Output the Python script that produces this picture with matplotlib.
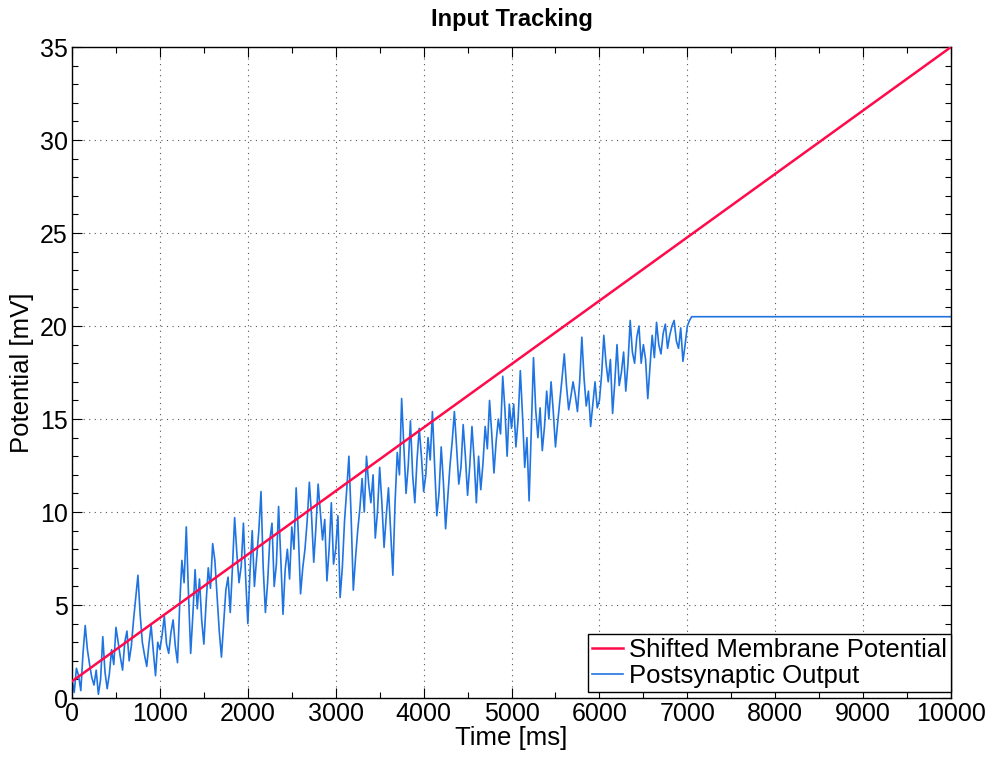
import numpy as np
import matplotlib
matplotlib.use("Agg")
import matplotlib.pyplot as plt
from matplotlib.ticker import MultipleLocator

plt.rcParams['font.family'] = ['Liberation Sans', 'DejaVu Sans']

# Shifted membrane potential (straight ramp): endpoints
ramp_t = [0, 10000]
ramp_v = [0.9, 35.0]

# Postsynaptic output, read every 25 ms up to ~7050 ms, then flat plateau
out_v = [
    1.0, 0.3, 1.6, 1.2, 0.4, 2.4, 3.9, 2.6, 1.8, 1.1, 0.7, 1.5, 0.2, 1.0, 3.3, 1.4,
    0.5, 1.3, 2.6, 1.8, 3.8, 3.0, 2.2, 1.5, 3.0, 3.6, 2.0, 2.8, 4.2, 5.4, 6.6, 4.5,
    3.0, 2.3, 1.7, 2.9, 3.9, 2.5, 1.2, 3.0, 2.6, 3.4, 4.4, 2.9, 2.4, 3.5, 4.2, 2.8,
    1.9, 5.0, 7.4, 6.2, 9.2, 5.6, 2.4, 4.5, 6.9, 4.8, 6.4, 4.2, 2.9, 5.1, 7.0, 5.9,
    8.3, 7.4, 5.5, 3.6, 2.2, 4.0, 5.8, 6.5, 4.6, 7.0, 9.7, 7.8, 6.2, 7.1, 9.4, 6.5,
    4.0, 6.8, 9.0, 6.0, 7.5, 9.0, 11.1, 7.0, 4.6, 6.2, 8.5, 9.4, 6.0, 7.2, 10.3, 7.5,
    4.5, 6.9, 8.0, 6.4, 9.2, 8.0, 11.3, 8.8, 5.6, 7.0, 8.0, 9.5, 11.6, 9.8, 7.3, 9.2,
    11.5, 10.0, 8.5, 9.6, 6.3, 8.0, 10.5, 7.2, 8.0, 9.8, 5.4, 7.0, 9.5, 11.2, 13.0, 9.8,
    5.8, 7.5, 9.0, 10.2, 11.8, 10.0, 13.0, 11.5, 10.5, 12.0, 8.6, 10.0, 12.4, 10.5, 8.1, 9.8,
    11.3, 9.0, 6.6, 10.5, 13.2, 12.0, 16.1, 13.5, 11.0, 12.5, 14.9, 12.0, 10.5, 12.8, 14.5, 13.0,
    11.1, 12.0, 14.0, 12.8, 15.4, 12.5, 9.8, 11.0, 13.5, 11.6, 9.1, 10.8, 12.5, 13.8, 15.4, 13.5,
    11.5, 12.4, 14.7, 13.0, 10.9, 12.5, 14.6, 12.8, 10.5, 13.0, 11.2, 12.6, 14.6, 13.4, 16.0, 14.2,
    12.1, 13.8, 15.0, 14.2, 17.3, 15.5, 13.0, 15.8, 14.5, 15.8, 13.5, 15.0, 17.6, 15.2, 12.4, 14.0,
    10.6, 14.5, 18.3, 15.5, 14.0, 15.6, 13.3, 14.6, 16.5, 15.0, 17.0, 15.4, 13.5, 14.8, 16.0, 17.2,
    18.5, 16.8, 15.5, 16.2, 17.0, 16.3, 15.4, 17.0, 19.4, 17.2, 15.7, 16.5, 14.6, 15.8, 17.0, 15.6,
    16.0, 17.4, 19.5, 18.0, 17.0, 18.2, 15.3, 17.0, 19.0, 16.8, 17.5, 18.6, 16.5, 18.0, 20.3, 18.6,
    18.0, 19.4, 20.0, 18.0, 19.0, 18.2, 16.1, 17.8, 19.5, 18.3, 20.2, 19.0, 18.5, 19.6, 20.1, 18.8,
    19.5, 20.0, 20.3, 19.2, 18.8, 19.9, 18.1, 19.0, 20.0, 20.3, 20.5,
]
out_t = [25 * i for i in range(len(out_v))]
plateau_t = [out_t[-1], 10000]
plateau_v = [20.5, 20.5]

x_ticks = [0, 1000, 2000, 3000, 4000, 5000, 6000, 7000, 8000, 9000, 10000]
y_ticks = [0, 5, 10, 15, 20, 25, 30, 35]

fig = plt.figure(figsize=(9.92, 7.57), dpi=100)
ax = fig.add_axes([0.0726, 0.0779, 0.8861, 0.86])

red = '#ff0a4a'
blue = '#1f74e2'

ax.plot(ramp_t, ramp_v, color=red, lw=1.8, label='Shifted Membrane Potential', zorder=3)
ax.plot(out_t + plateau_t[1:], out_v + plateau_v[1:], color=blue, lw=1.2,
        label='Postsynaptic Output', zorder=2)

ax.set_xlim(0, 10000)
ax.set_ylim(0, 35)
ax.set_xticks(x_ticks)
ax.set_yticks(y_ticks)
ax.set_xticklabels([str(v) for v in x_ticks])
ax.set_yticklabels([str(v) for v in y_ticks])
ax.xaxis.set_minor_locator(MultipleLocator(500))
ax.yaxis.set_minor_locator(MultipleLocator(1))
ax.tick_params(which='both', direction='in', top=True, right=True, labelsize=18, width=0.8)
ax.tick_params(which='major', length=7, pad=3)
ax.tick_params(which='minor', length=4)
for s in ax.spines.values():
    s.set_linewidth(1.0)
    s.set_color('black')

ax.grid(True, which='major', linestyle=(0, (1, 4)), color='#555555', linewidth=0.8)

ax.set_title('Input Tracking', fontsize=17, fontweight='bold', pad=15)
ax.set_xlabel('Time [ms]', fontsize=18.5, labelpad=0)
ax.set_ylabel('Potential [mV]', fontsize=18.5, labelpad=4)

leg = ax.legend(loc='lower right', fontsize=18.5, frameon=True, fancybox=False,
                borderaxespad=0.0, handlelength=1.2, handletextpad=0.25,
                borderpad=0.15, labelspacing=0.1, bbox_to_anchor=(1.0, 0.009))
leg.get_frame().set_edgecolor('black')
leg.get_frame().set_linewidth(1.0)
leg.get_frame().set_alpha(1.0)

fig.savefig('out.png', dpi=100)
